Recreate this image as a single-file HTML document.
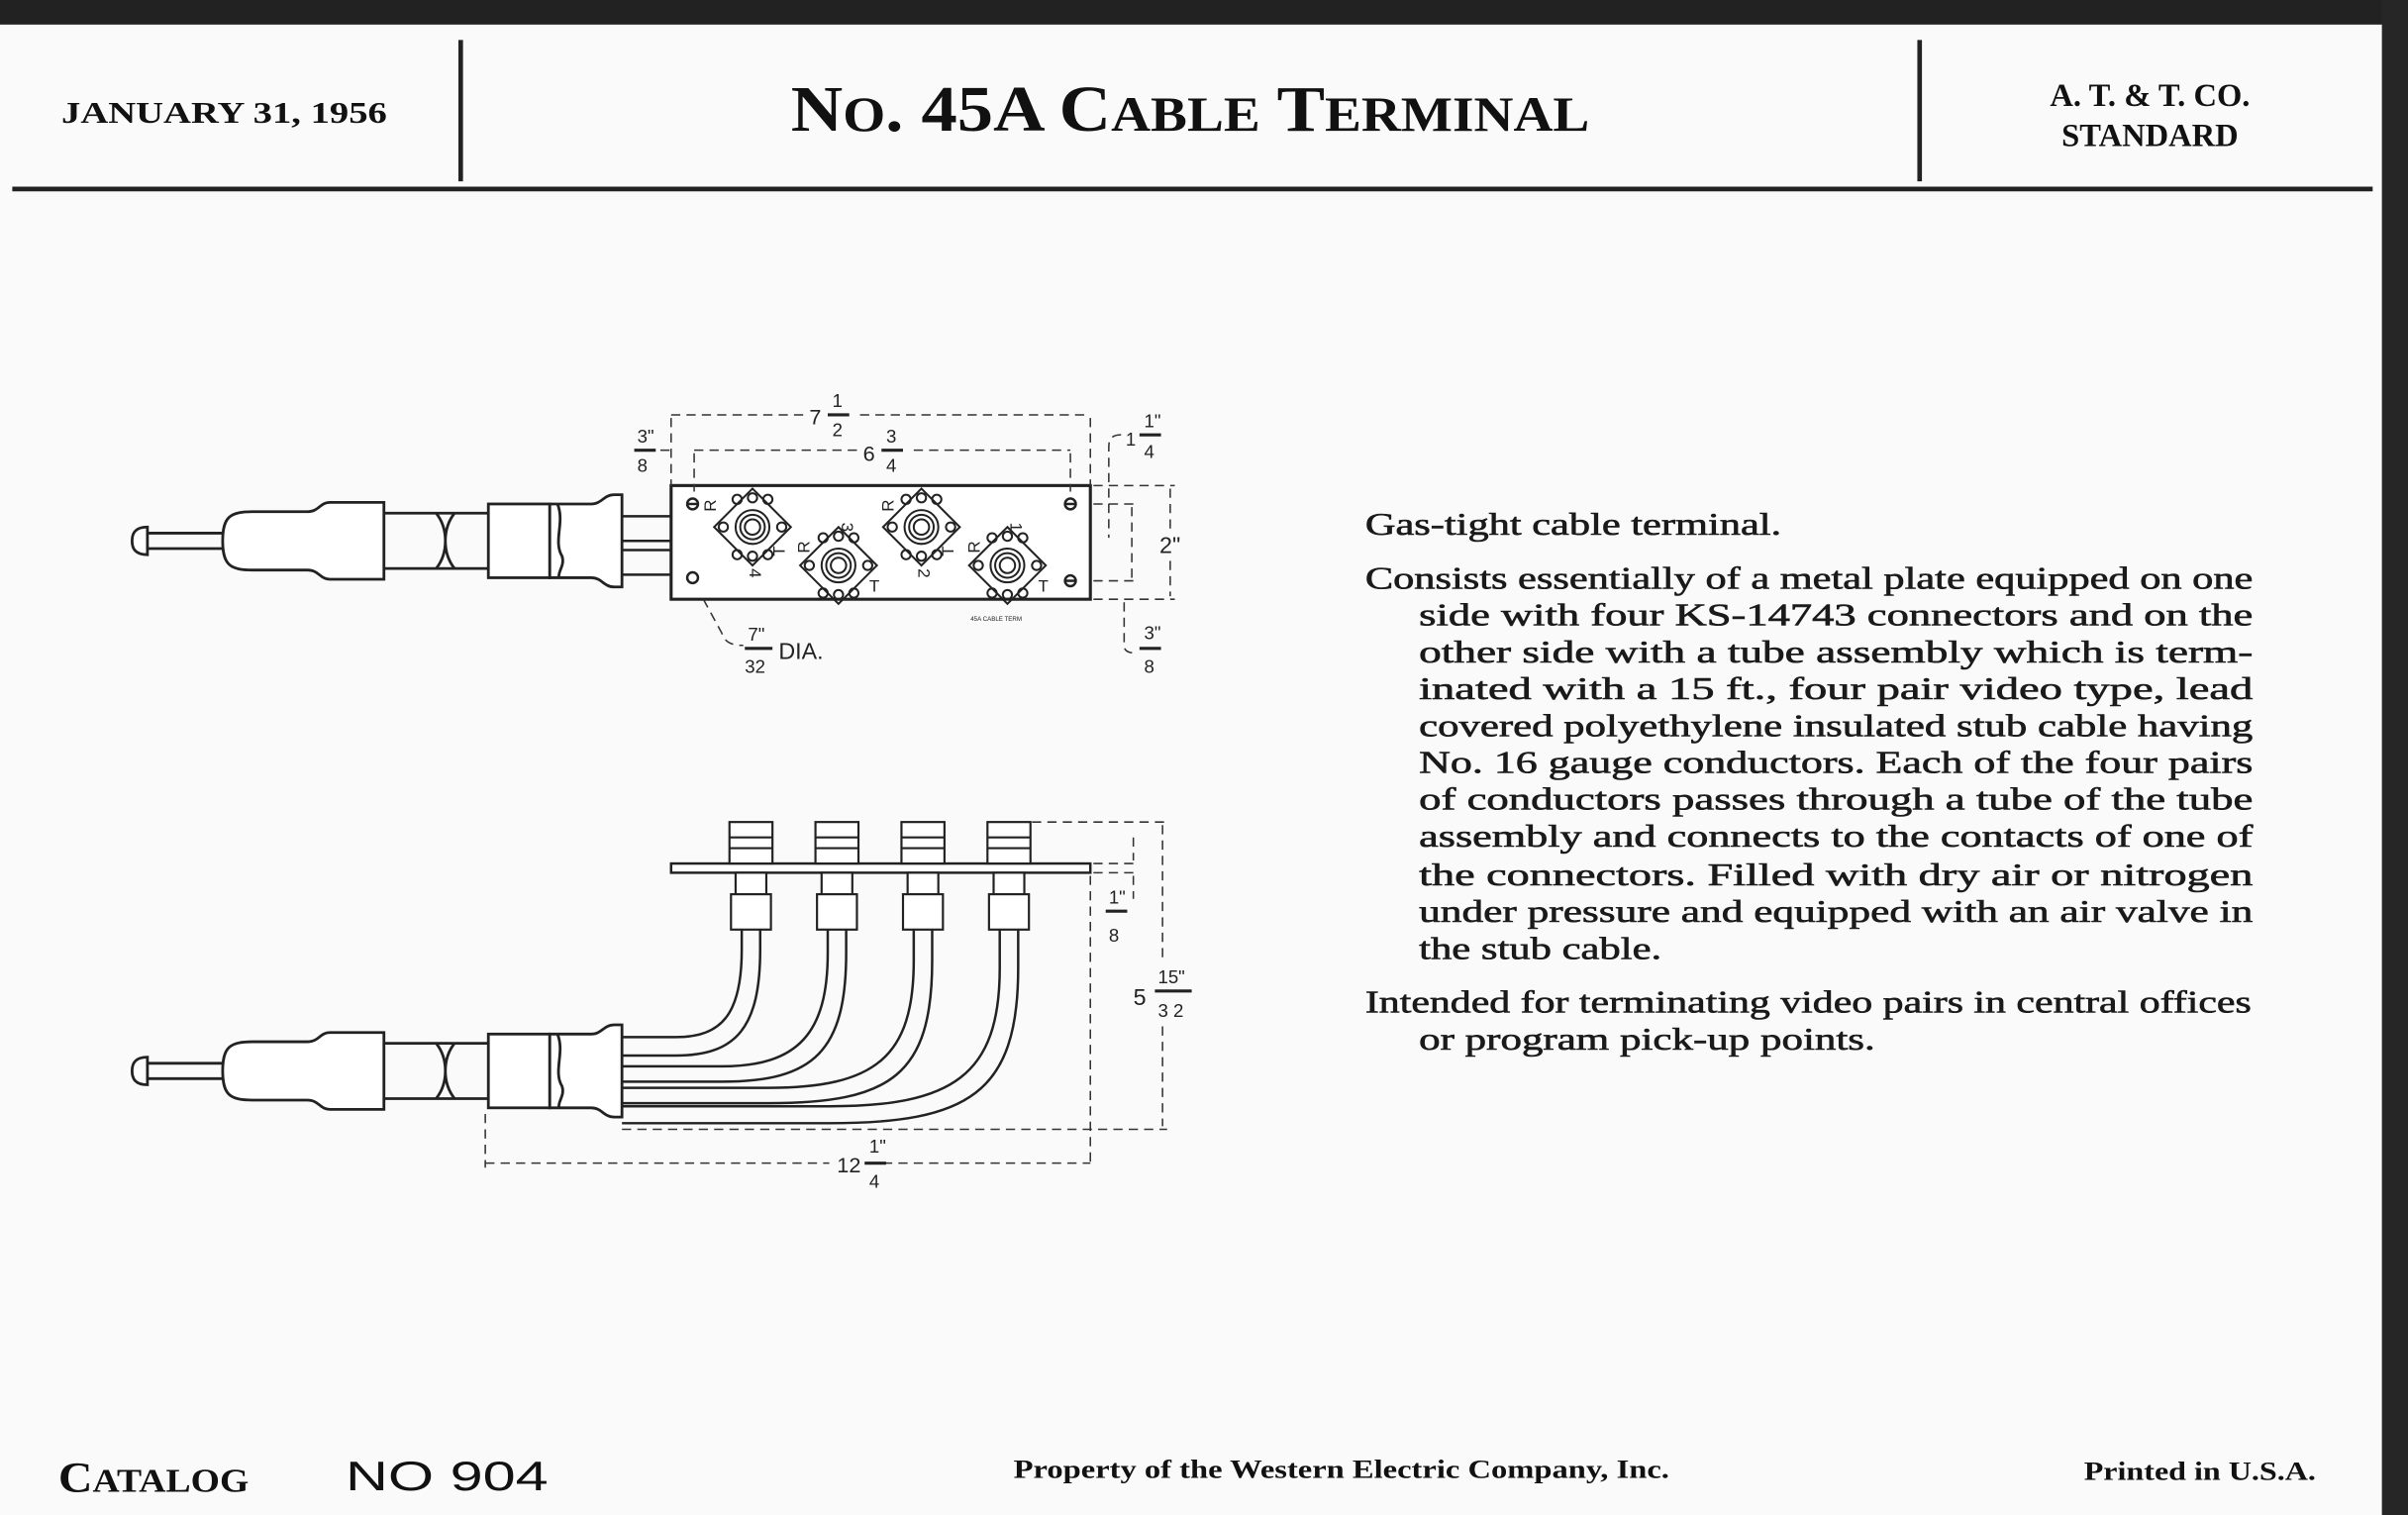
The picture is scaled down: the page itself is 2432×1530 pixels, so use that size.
<!DOCTYPE html>
<html><head><meta charset="utf-8"><style>
html,body{margin:0;padding:0;background:#fff;}
svg{display:block}
</style></head><body>
<svg width="2432" height="1530" viewBox="0 0 1568 986" preserveAspectRatio="none" xmlns="http://www.w3.org/2000/svg">
<rect width="1568" height="986" fill="#fafafa"/>
<rect x="0" y="0" width="1568" height="16" fill="#222"/>
<rect x="1551" y="0" width="17" height="986" fill="#262626"/>
<line x1="8" y1="123" x2="1545" y2="123" stroke="#222" stroke-width="3"/>
<line x1="300" y1="26" x2="300" y2="118" stroke="#222" stroke-width="3"/>
<line x1="1250" y1="26" x2="1250" y2="118" stroke="#222" stroke-width="3"/>
<g font-family="Liberation Serif, serif" fill="#111">
<text x="40" y="80" font-size="20" font-weight="bold" textLength="212" lengthAdjust="spacingAndGlyphs">JANUARY 31, 1956</text>
<text x="515" y="85" font-size="42" font-weight="bold" textLength="520" lengthAdjust="spacingAndGlyphs">N<tspan font-size="32">O</tspan>. 45A C<tspan font-size="32">ABLE</tspan> T<tspan font-size="32">ERMINAL</tspan></text>
<text x="1400" y="69" font-size="21" font-weight="bold" text-anchor="middle">A. T. &amp; T. CO.</text>
<text x="1400" y="95" font-size="21" font-weight="bold" text-anchor="middle">STANDARD</text>
</g>
<g font-family="Liberation Serif, serif" fill="#1a1a1a" stroke="#1a1a1a" stroke-width="0.4" font-size="20.5">
<text x="889" y="348" textLength="271" lengthAdjust="spacingAndGlyphs">Gas-tight cable terminal.</text>
<text x="889" y="383" textLength="578" lengthAdjust="spacingAndGlyphs">Consists essentially of a metal plate equipped on one</text>
<text x="924" y="407" textLength="543" lengthAdjust="spacingAndGlyphs">side with four KS-14743 connectors and on the</text>
<text x="924" y="431" textLength="543" lengthAdjust="spacingAndGlyphs">other side with a tube assembly which is term-</text>
<text x="924" y="455" textLength="543" lengthAdjust="spacingAndGlyphs">inated with a 15 ft., four pair video type, lead</text>
<text x="924" y="479" textLength="543" lengthAdjust="spacingAndGlyphs">covered polyethylene insulated stub cable having</text>
<text x="924" y="503" textLength="543" lengthAdjust="spacingAndGlyphs">No. 16 gauge conductors. Each of the four pairs</text>
<text x="924" y="527" textLength="543" lengthAdjust="spacingAndGlyphs">of conductors passes through a tube of the tube</text>
<text x="924" y="551" textLength="543" lengthAdjust="spacingAndGlyphs">assembly and connects to the contacts of one of</text>
<text x="924" y="576" textLength="543" lengthAdjust="spacingAndGlyphs">the connectors. Filled with dry air or nitrogen</text>
<text x="924" y="600" textLength="543" lengthAdjust="spacingAndGlyphs">under pressure and equipped with an air valve in</text>
<text x="924" y="624" textLength="158" lengthAdjust="spacingAndGlyphs">the stub cable.</text>
<text x="889" y="659" textLength="577" lengthAdjust="spacingAndGlyphs">Intended for terminating video pairs in central offices</text>
<text x="924" y="683" textLength="297" lengthAdjust="spacingAndGlyphs">or program pick-up points.</text>
</g>
<g fill="#111">
<text x="38" y="971" font-family="Liberation Serif, serif" font-size="28" font-weight="bold" textLength="124" lengthAdjust="spacingAndGlyphs">C<tspan font-size="22">ATALOG</tspan></text>
<text x="225" y="970" font-family="Liberation Sans, sans-serif" font-size="27" textLength="132" lengthAdjust="spacingAndGlyphs">NO 904</text>
<text x="660" y="962" font-family="Liberation Serif, serif" font-size="17" font-weight="bold" textLength="427" lengthAdjust="spacingAndGlyphs">Property of the Western Electric Company, Inc.</text>
<text x="1357" y="963" font-family="Liberation Serif, serif" font-size="17" font-weight="bold" textLength="151" lengthAdjust="spacingAndGlyphs">Printed in U.S.A.</text>
</g>
<defs>
<g id="cable" fill="none" stroke="#222" stroke-width="1.8">
  <path d="M96,-9 C88,-9 86,-5 86,0 C86,5 88,9 96,9 Z" fill="#fff"/>
  <line x1="96" y1="-5" x2="145" y2="-5"/><line x1="96" y1="5" x2="145" y2="5"/>
  <path d="M145,0 C145,-16 150,-19 165,-19 L200,-19 C208,-19 208,-25 215,-25 L250,-25 L250,25 L215,25 C208,25 208,19 200,19 L165,19 C150,19 145,16 145,0 Z" fill="#fff"/>
  <line x1="250" y1="-18" x2="318" y2="-18"/><line x1="250" y1="18" x2="318" y2="18"/>
  <path d="M284,-18 C292,-8 292,8 284,18 M296,-18 C288,-8 288,8 296,18"/>
  <rect x="318" y="-24" width="40" height="48" fill="#fff"/>
  <path d="M358,-24 L385,-24 C392,-24 393,-30 400,-30 L405,-30 L405,30 L400,30 C393,30 392,24 385,24 L358,24 Z" fill="#fff"/>
  <path d="M363,-24 C368,-12 360,0 366,10 C368,16 363,20 364,24"/>
</g>
<g id="conn" fill="none" stroke="#222" stroke-width="1.3">
    <path d="M0,-25 L25,0 L0,25 L-25,0 Z"/><circle r="11"/><circle r="8"/><circle r="5"/>
    <circle cx="0" cy="-19" r="3"/><circle cx="0" cy="19" r="3"/><circle cx="-19" cy="0" r="3"/><circle cx="19" cy="0" r="3"/>
    <circle cx="-10" cy="-18" r="3"/><circle cx="10" cy="-18" r="3"/><circle cx="-10" cy="18" r="3"/><circle cx="10" cy="18" r="3"/>
</g>
</defs>
<use href="#cable" x="0" y="352"/>
<g fill="none" stroke="#222" stroke-width="1.6">
  <line x1="405" y1="336" x2="437" y2="336"/>
  <line x1="405" y1="352" x2="437" y2="352"/>
  <line x1="405" y1="358" x2="437" y2="358"/>
  <line x1="405" y1="374" x2="437" y2="374"/>
  <rect x="437" y="316" width="273" height="74" fill="#fff" stroke-width="2"/>
  <circle cx="451" cy="328" r="3.5"/><line x1="447" y1="328" x2="455" y2="328"/>
  <circle cx="697" cy="328" r="3.5"/><line x1="693" y1="328" x2="701" y2="328"/>
  <circle cx="451" cy="376" r="3.5"/>
  <circle cx="697" cy="378" r="3.5"/><line x1="693" y1="378" x2="701" y2="378"/>
</g>
<use href="#conn" x="490" y="343"/>
<use href="#conn" x="546" y="368"/>
<use href="#conn" x="600" y="343"/>
<use href="#conn" x="656" y="368"/>
<g font-family="Liberation Sans, sans-serif" font-size="11" fill="#222">
  <text x="466" y="333" transform="rotate(-90 466 333)">R</text>
  <text x="582" y="333" transform="rotate(-90 582 333)">R</text>
  <text x="527" y="360" transform="rotate(-90 527 360)">R</text>
  <text x="638" y="360" transform="rotate(-90 638 360)">R</text>
  <text x="548" y="340" transform="rotate(90 548 340)">3</text>
  <text x="658" y="340" transform="rotate(90 658 340)">1</text>
  <text x="488" y="370" transform="rotate(90 488 370)">4</text>
  <text x="598" y="370" transform="rotate(90 598 370)">2</text>
  <text x="511" y="362" transform="rotate(-90 511 362)">T</text>
  <text x="621" y="362" transform="rotate(-90 621 362)">T</text>
  <text x="566" y="385">T</text>
  <text x="676" y="385">T</text>
  <text x="632" y="404" font-size="4">45A CABLE TERM</text>
</g>
<g fill="none" stroke="#333" stroke-width="1" stroke-dasharray="6,4">
  <line x1="437" y1="270" x2="525" y2="270"/><line x1="560" y1="270" x2="710" y2="270"/>
  <line x1="437" y1="272" x2="437" y2="316"/><line x1="710" y1="272" x2="710" y2="316"/>
  <line x1="452" y1="293" x2="560" y2="293"/><line x1="595" y1="293" x2="697" y2="293"/>
  <line x1="452" y1="295" x2="452" y2="320"/><line x1="697" y1="295" x2="697" y2="320"/>
  <line x1="430" y1="293" x2="437" y2="293"/>
  <path d="M730,283 C722,283 722,288 722,292 L722,350"/>
  <line x1="712" y1="316" x2="765" y2="316"/><line x1="712" y1="390" x2="765" y2="390"/>
  <line x1="762" y1="318" x2="762" y2="345"/><line x1="762" y1="365" x2="762" y2="388"/>
  <line x1="737" y1="330" x2="737" y2="378"/><line x1="712" y1="328" x2="740" y2="328"/><line x1="712" y1="378" x2="740" y2="378"/>
  <path d="M732,392 L732,420 C732,424 735,425 740,425"/>
  <path d="M458,390 L470,412 C472,418 476,420 484,420"/>
</g>
<g font-family="Liberation Sans, sans-serif" fill="#222">
  <text x="527" y="276" font-size="14">7</text>
  <text x="542" y="265" font-size="12">1</text><line x1="539" y1="270" x2="553" y2="270" stroke="#222" stroke-width="2"/><text x="542" y="284" font-size="12">2</text>
  <text x="562" y="300" font-size="14">6</text>
  <text x="577" y="288" font-size="12">3</text><line x1="574" y1="293" x2="588" y2="293" stroke="#222" stroke-width="2"/><text x="577" y="307" font-size="12">4</text>
  <text x="415" y="288" font-size="12">3"</text><line x1="413" y1="293" x2="427" y2="293" stroke="#222" stroke-width="2"/><text x="415" y="307" font-size="12">8</text>
  <text x="733" y="290" font-size="12">1</text>
  <text x="745" y="278" font-size="12">1"</text><line x1="742" y1="283" x2="756" y2="283" stroke="#222" stroke-width="2"/><text x="745" y="298" font-size="12">4</text>
  <text x="755" y="360" font-size="15">2"</text>
  <text x="745" y="416" font-size="12">3"</text><line x1="742" y1="422" x2="756" y2="422" stroke="#222" stroke-width="2"/><text x="745" y="438" font-size="12">8</text>
  <text x="487" y="417" font-size="12">7"</text><line x1="485" y1="422" x2="503" y2="422" stroke="#222" stroke-width="2"/><text x="485" y="438" font-size="12">32</text>
  <text x="507" y="429" font-size="15">DIA.</text>
</g>
<use href="#cable" x="0" y="697"/>
<g fill="none" stroke="#222" stroke-width="1.6">
  <rect x="437" y="562" width="273" height="6" fill="#fff"/>
  <path d="M483,605 L483,618 C483,660 470,675 440,675 L405,675"/>
  <path d="M495,605 L495,618 C495,668 480,687 440,687 L405,687"/>
  <path d="M539,605 L539,620 C539,672 520,694 470,694 L405,694"/>
  <path d="M551,605 L551,620 C551,684 530,704 470,704 L405,704"/>
  <path d="M595,605 L595,625 C595,688 570,708 500,708 L405,708"/>
  <path d="M607,605 L607,625 C607,700 580,718 500,718 L405,718"/>
  <path d="M651,605 L651,630 C651,700 620,720 540,720 L405,720"/>
  <path d="M663,605 L663,630 C663,712 630,731 540,731 L405,731"/>
</g>
<g fill="#fff" stroke="#222" stroke-width="1.4">
  <g transform="translate(489,0)"><rect x="-14" y="535" width="28" height="27"/><line x1="-14" y1="545" x2="14" y2="545"/><line x1="-14" y1="552" x2="14" y2="552"/><rect x="-10" y="568" width="20" height="14"/><rect x="-13" y="582" width="26" height="23"/></g>
  <g transform="translate(545,0)"><rect x="-14" y="535" width="28" height="27"/><line x1="-14" y1="545" x2="14" y2="545"/><line x1="-14" y1="552" x2="14" y2="552"/><rect x="-10" y="568" width="20" height="14"/><rect x="-13" y="582" width="26" height="23"/></g>
  <g transform="translate(601,0)"><rect x="-14" y="535" width="28" height="27"/><line x1="-14" y1="545" x2="14" y2="545"/><line x1="-14" y1="552" x2="14" y2="552"/><rect x="-10" y="568" width="20" height="14"/><rect x="-13" y="582" width="26" height="23"/></g>
  <g transform="translate(657,0)"><rect x="-14" y="535" width="28" height="27"/><line x1="-14" y1="545" x2="14" y2="545"/><line x1="-14" y1="552" x2="14" y2="552"/><rect x="-10" y="568" width="20" height="14"/><rect x="-13" y="582" width="26" height="23"/></g>
</g>
<g fill="none" stroke="#333" stroke-width="1" stroke-dasharray="6,4">
  <line x1="672" y1="535" x2="760" y2="535"/>
  <line x1="757" y1="537" x2="757" y2="625"/><line x1="757" y1="668" x2="757" y2="733"/>
  <line x1="405" y1="735" x2="760" y2="735"/>
  <line x1="710" y1="570" x2="710" y2="760"/>
  <line x1="316" y1="725" x2="316" y2="760"/>
  <line x1="316" y1="757" x2="540" y2="757"/><line x1="575" y1="757" x2="710" y2="757"/>
  <line x1="712" y1="562" x2="740" y2="562"/><line x1="712" y1="568" x2="740" y2="568"/>
  <line x1="738" y1="545" x2="738" y2="560"/><path d="M738,570 L738,585"/>
</g>
<g font-family="Liberation Sans, sans-serif" fill="#222">
  <text x="722" y="588" font-size="12">1"</text><line x1="720" y1="593" x2="734" y2="593" stroke="#222" stroke-width="2"/><text x="722" y="613" font-size="12">8</text>
  <text x="738" y="654" font-size="15">5</text>
  <text x="754" y="640" font-size="12">15"</text><line x1="752" y1="645" x2="776" y2="645" stroke="#222" stroke-width="2"/><text x="754" y="662" font-size="12">3 2</text>
  <text x="545" y="763" font-size="14">12</text>
  <text x="566" y="750" font-size="12">1"</text><line x1="563" y1="757" x2="577" y2="757" stroke="#222" stroke-width="2"/><text x="566" y="773" font-size="12">4</text>
</g>
</svg>
</body></html>
